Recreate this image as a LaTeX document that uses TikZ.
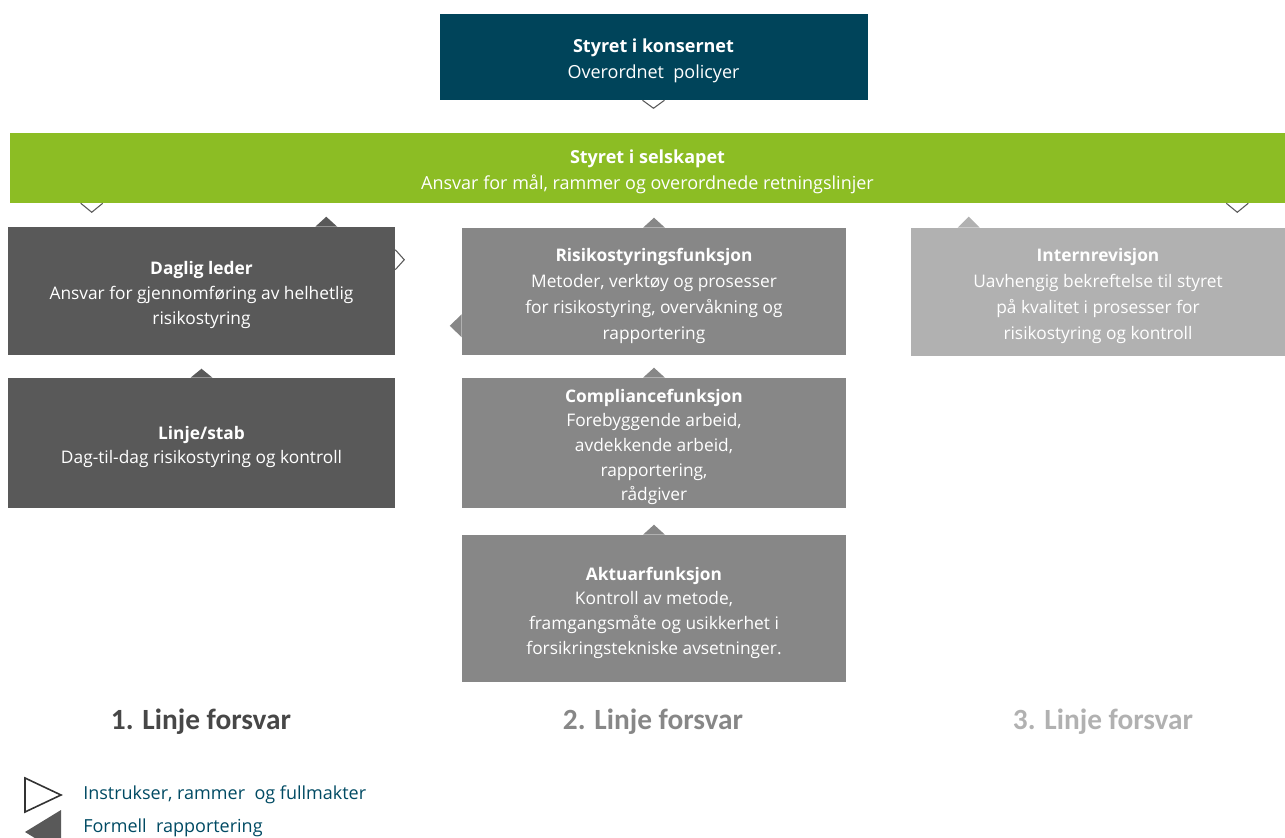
\documentclass[tikz,border=0pt]{standalone}
\usepackage{fontspec}
\setmainfont{Open Sans}
\newfontfamily\linefont{Carlito}
\usepackage{tikz}
\usetikzlibrary{calc}
\definecolor{groupteal}{HTML}{00445A}
\definecolor{boardgreen}{HTML}{8CBD24}
\definecolor{firstgray}{HTML}{595959}
\definecolor{secondgray}{HTML}{878787}
\definecolor{thirdgray}{HTML}{B1B1B1}
\definecolor{legendteal}{HTML}{004A63}
\newcommand{\unittitle}[1]{\rule{0pt}{16pt}\textbf{#1}}
\tikzstyle{unit}=[rectangle,inner sep=0pt,align=center,text=white,
font=\fontsize{13}{18.5}\selectfont]
\tikzstyle{board}=[unit,font=\fontsize{13.5}{19.5}\selectfont]
\tikzstyle{first}=[unit,fill=firstgray,minimum width=290.25pt]
\tikzstyle{second}=[unit,fill=secondgray,minimum width=288pt]
\tikzstyle{third}=[unit,fill=thirdgray,minimum width=280.5pt]
\tikzstyle{instr}=[draw=firstgray,fill=white,line width=0.8pt]
\tikzstyle{lineof}=[font=\linefont\bfseries\fontsize{22}{26}\selectfont]
\tikzstyle{legend}=[anchor=west,inner sep=0pt,text=legendteal,font=\fontsize{13.5}{16}\selectfont]

\begin{document}
\begin{tikzpicture}[x=0.75pt,y=-0.75pt]
    \useasboundingbox (0,0) rectangle (1285,838);
        \node (group) [board,fill=groupteal,minimum width=321pt,minimum height=64.5pt] at (653.5,57)
            {\unittitle{Styret i konsernet}\\Overordnet\ \ policyer};
        \node (company) [board,fill=boardgreen,minimum width=956.25pt,minimum height=52.5pt] at (647.5,168)
            {\unittitle{Styret i selskapet}\\Ansvar for mål, rammer og overordnede retningslinjer};
        \node (ceo) [first,minimum height=96pt] at (201.5,291)
            {\unittitle{Daglig leder}\\Ansvar for gjennomføring av helhetlig\\risikostyring};
        \node (staff) [first,minimum height=97.5pt] at (201.5,443)
            {\unittitle{Linje/stab}\\Dag-til-dag risikostyring og kontroll};
        \node (risk) [second,minimum height=95.25pt,font=\fontsize{13}{19.5}\selectfont] at (654,291.5)
            {\unittitle{Risikostyringsfunksjon}\\Metoder, verktøy og prosesser\\for risikostyring, overvåkning og\\rapportering};
        \node (compliance) [second,minimum height=97.5pt] at (654,443)
            {\unittitle{Compliancefunksjon}\\Forebyggende arbeid,\\avdekkende arbeid,\\rapportering,\\rådgiver};
        \node (actuary) [second,minimum height=110.25pt] at (654,608.5)
            {\unittitle{Aktuarfunksjon}\\Kontroll av metode,\\framgangsmåte og usikkerhet i\\forsikringstekniske avsetninger.};
        \node (audit) [third,minimum height=96pt,font=\fontsize{13}{19.5}\selectfont] at (1098,292)
            {\unittitle{Internrevisjon}\\Uavhengig bekreftelse til styret\\på kvalitet i prosesser for\\risikostyring og kontroll};

        \node (line1) [lineof,text=firstgray!80!black] at (201,722) {1. Linje forsvar};
        \node (line2) [lineof,text=secondgray] at (653,722) {2. Linje forsvar};
        \node (line3) [lineof,text=thirdgray] at (1103,722) {3. Linje forsvar};

        \draw [instr] ($(group.south)+(-11,0)$) -- ++(11,8) -- ++(11,-8);
        \draw [instr] ($(company.south west)+(71,0)$) -- ++(11,9) -- ++(11,-9);
        \draw [instr] ($(company.south east)+(-59,0)$) -- ++(11,9) -- ++(11,-9);
        \draw [instr] ($(ceo.north east)+(0,23)$) -- ++(9,10) -- ++(-9,10);

        \fill [firstgray] ($(ceo.north east)+(-80,0)$) -- ++(11,-10) -- ++(11,10);
        \fill [firstgray] ($(staff.north)+(-11,0)$) -- ++(11,-9) -- ++(11,9);
        \fill [secondgray] ($(risk.north)+(-11,0)$) -- ++(11,-10) -- ++(11,10);
        \fill [secondgray] ($(risk.south west)+(0,-41)$) -- ++(-12,11.5) -- ++(12,11.5);
        \fill [secondgray] ($(compliance.north)+(-11,0)$) -- ++(11,-10) -- ++(11,10);
        \fill [secondgray] ($(actuary.north)+(-11,0)$) -- ++(11,-10) -- ++(11,10);
        \fill [thirdgray] ($(audit.north west)+(47,0)$) -- ++(11,-11) -- ++(11,11);

        \draw [draw=black!80,line width=1.2pt] (25,778) -- (61,795) -- (25,812) -- cycle;
        \fill [firstgray] (61,810) -- (25,832) -- (61,854) -- cycle;
        \node (instrtext) [legend] at (83,795) {Instrukser, rammer\ \ og fullmakter};
        \node (reporttext) [legend] at (83,828) {Formell\ \ rapportering};
\end{tikzpicture}
\end{document}
